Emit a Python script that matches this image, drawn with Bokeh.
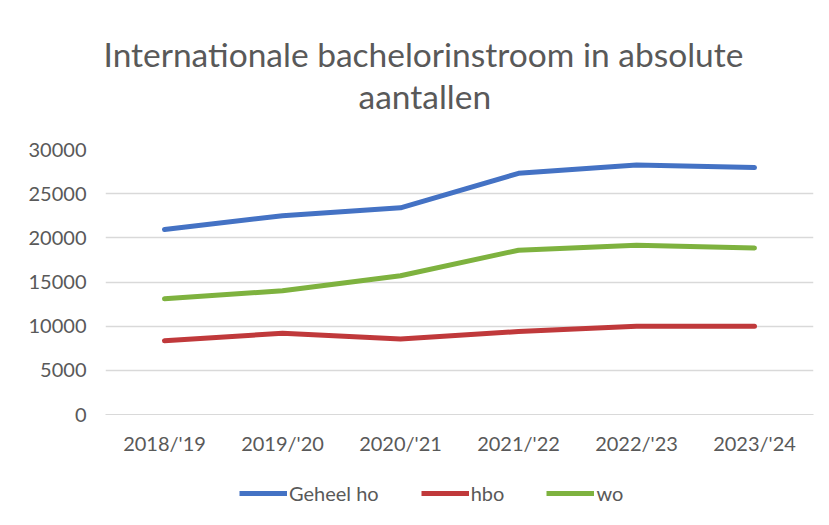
from bokeh.plotting import figure
from bokeh.models import Range1d, FactorRange, Title, Legend, LegendItem, NumeralTickFormatter
from bokeh.layouts import column
from bokeh.embed import file_html
from bokeh.resources import INLINE

years = ["2018/'19", "2019/'20", "2020/'21", "2021/'22", "2022/'23", "2023/'24"]
geheel_ho = [20950, 22500, 23400, 27300, 28250, 27950]
hbo = [8350, 9200, 8550, 9400, 10000, 10000]
wo = [13100, 14000, 15700, 18600, 19150, 18850]
y_ticks = [0, 5000, 10000, 15000, 20000, 25000, 30000]
names = ["Geheel ho", "hbo", "wo"]
title_lines = ["Internationale bachelorinstroom in absolute", "aantallen"]
title_offsets = [-2, 253]

FONT = "Lato"
TXT = "#595959"
colors = ["#4472C4", "#C0393B", "#7EB23F"]

# header strip holding the two title lines
hd = figure(width=829, height=130, output_backend="svg", toolbar_location=None,
            x_axis_type=None, y_axis_type=None, min_border_left=0, min_border_right=0,
            min_border_bottom=0, min_border_top=115, x_range=Range1d(0, 1), y_range=Range1d(0, 1))
hd.outline_line_color = None
hd.grid.visible = False
hd.title = None
for txt, off in reversed(list(zip(title_lines, title_offsets))):
    hd.add_layout(Title(text=txt, align="left", text_font=FONT, text_font_size="33.5px",
                        text_font_style="normal", text_color=TXT, offset=off, standoff=0), "above")

p = figure(width=829, height=332, x_range=FactorRange(*years, range_padding=0),
           y_range=Range1d(0, 30000), output_backend="svg", toolbar_location=None,
           min_border_left=105, min_border_right=16, min_border_top=19, min_border_bottom=48)
p.outline_line_color = None
p.background_fill_color = "white"
p.border_fill_color = "white"

for vals, c in zip([geheel_ho, hbo, wo], colors):
    p.line(years, vals, line_color=c, line_width=5, line_cap="round", line_join="round")

p.yaxis.ticker = y_ticks
p.yaxis.formatter = NumeralTickFormatter(format="0")
p.yaxis.axis_line_color = None
p.yaxis.major_tick_line_color = None
p.yaxis.minor_tick_line_color = None
p.yaxis.major_label_text_font = FONT
p.yaxis.major_label_text_font_size = "20px"
p.yaxis.major_label_text_color = TXT
p.yaxis.major_label_standoff = 13

p.xaxis.axis_line_color = "#d9d9d9"
p.xaxis.major_tick_line_color = None
p.xaxis.minor_tick_line_color = None
p.xaxis.major_label_text_font = FONT
p.xaxis.major_label_text_font_size = "20px"
p.xaxis.major_label_text_color = TXT
p.xaxis.major_label_standoff = 10

p.xgrid.grid_line_color = None
p.ygrid.grid_line_color = "#d9d9d9"
p.ygrid.grid_line_width = 1.5

# legend strip below the chart (swatches only)
lg = figure(width=829, height=63, output_backend="svg", toolbar_location=None,
            x_axis_type=None, y_axis_type=None, min_border=0,
            x_range=Range1d(0, 1), y_range=Range1d(0, 1))
lg.outline_line_color = None
lg.grid.visible = False
nan = float("nan")
swatches = [lg.line(x=[nan], y=[nan], line_color=c, line_width=5) for c in colors]
legend = Legend(items=[LegendItem(label=n, renderers=[r]) for n, r in zip(names, swatches)],
                orientation="horizontal", location=(134, 20), border_line_color=None,
                background_fill_alpha=0,
                label_text_font=FONT, label_text_font_size="20px", label_text_color=TXT,
                glyph_width=48, label_standoff=2, spacing=42, margin=0, padding=0)
lg.add_layout(legend, "center")

layout = column(hd, p, lg, spacing=0)
open("out.html", "w").write(file_html(layout, INLINE))
